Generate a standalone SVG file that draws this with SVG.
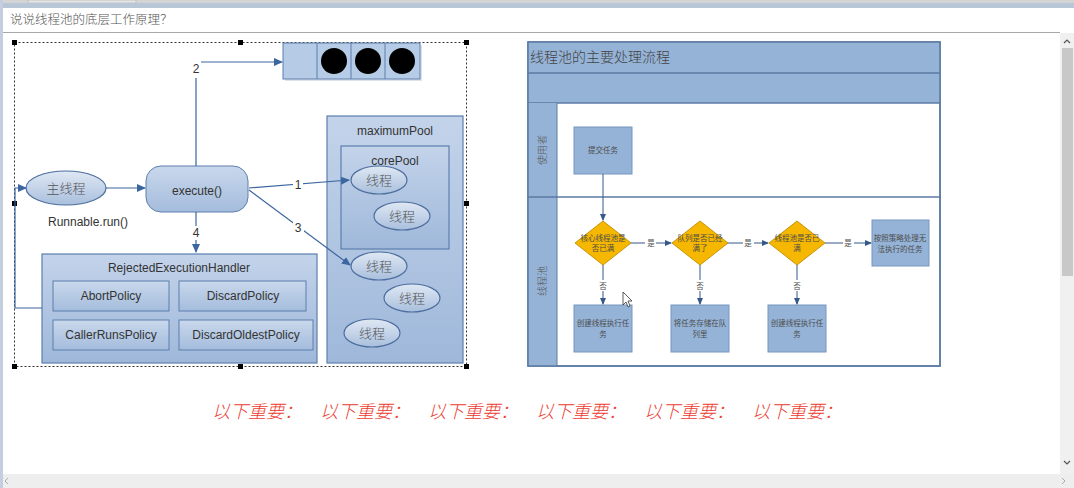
<svg xmlns="http://www.w3.org/2000/svg" width="1074" height="488" viewBox="0 0 1074 488">
<defs>
<linearGradient id="gBox" x1="0" y1="0" x2="0" y2="1"><stop offset="0" stop-color="#c9d8ec"/><stop offset="1" stop-color="#a4bcdc"/></linearGradient>
<linearGradient id="gPool" x1="0" y1="0" x2="0" y2="1"><stop offset="0" stop-color="#c3d3ea"/><stop offset="1" stop-color="#9fb8da"/></linearGradient>
<linearGradient id="gEll" x1="0" y1="0" x2="0" y2="1"><stop offset="0" stop-color="#dfe8f4"/><stop offset="1" stop-color="#a9bfdd"/></linearGradient>
<marker id="arr" markerWidth="9" markerHeight="8" refX="8" refY="4" orient="auto" markerUnits="userSpaceOnUse"><path d="M0,0 L9,4 L0,8 Z" fill="#3b66a0"/></marker>
<marker id="arrS" markerWidth="7" markerHeight="6" refX="6" refY="3" orient="auto" markerUnits="userSpaceOnUse"><path d="M0,0 L7,3 L0,6 Z" fill="#34588a"/></marker>
<style>
.lbl{font-family:"Liberation Sans","Noto Sans CJK SC",sans-serif;font-size:12px;fill:#333;text-anchor:middle}
.cn{font-family:"Noto Sans CJK SC",sans-serif;font-size:13px;font-weight:300;fill:#555;text-anchor:middle}
.box{fill:url(#gBox);stroke:#5c7fae;stroke-width:1}
.pool{fill:url(#gPool);stroke:#5c7fae;stroke-width:1.2}
.ell{fill:url(#gEll);stroke:#4d6e9e;stroke-width:1.2}
.con{fill:none;stroke:#3b66a0;stroke-width:1.2}
.fl{fill:none;stroke:#34588a;stroke-width:1}
.rbox{fill:#95b3d7;stroke:#7796c0;stroke-width:1}
.dia{fill:#f6b700;stroke:#c8950a;stroke-width:1}
.sm{font-family:"Noto Sans CJK SC",serif;font-size:7.5px;fill:#4d4d4d;text-anchor:middle}
.hdl{fill:#000}
.red{font-family:"Noto Sans CJK SC",sans-serif;font-size:18px;font-weight:300;fill:#ec3b30;font-style:italic}
</style>
</defs>

<!-- window chrome -->
<rect x="0" y="0" width="1074" height="488" fill="#ffffff"/>
<rect x="0" y="0" width="1074" height="4" fill="#d4d4d4"/>
<rect x="28" y="0" width="108" height="3" fill="#e6e6e6" stroke="#b0b0b0" stroke-width="0.6"/>
<rect x="0" y="3" width="1074" height="5" fill="#b9c6d7"/>
<rect x="0" y="0" width="3" height="488" fill="#c3cfdf"/>
<line x1="3" y1="32.5" x2="1060" y2="32.5" stroke="#a8a8a8" stroke-width="1"/>
<text x="10" y="24" font-family="Noto Sans CJK SC, sans-serif" font-size="12.5" font-weight="300" fill="#555">说说线程池的底层工作原理？</text>
<rect x="1060" y="33" width="14" height="441" fill="#f0f0f0"/>
<rect x="1062" y="48" width="11" height="228" fill="#c8c8c8"/>
<path d="M1064,43 L1067,40 L1070,43" fill="none" stroke="#555" stroke-width="1.2"/>
<path d="M1064,461 L1067,464 L1070,461" fill="none" stroke="#555" stroke-width="1.2"/>
<rect x="3" y="474" width="1071" height="14" fill="#eeeeee"/>
<path d="M8,478 L5,481 L8,484" fill="none" stroke="#aaa" stroke-width="1"/>
<path d="M1062,478 L1065,481 L1062,484" fill="none" stroke="#aaa" stroke-width="1"/>

<!-- selection frame -->
<g id="selection">
<rect x="14.5" y="42.5" width="452" height="324" fill="none" stroke="#333" stroke-width="1" stroke-dasharray="2 2"/>
<rect class="hdl" x="12" y="40" width="5" height="5"/><rect class="hdl" x="238" y="40" width="5" height="5"/><rect class="hdl" x="464" y="40" width="5" height="5"/>
<rect class="hdl" x="12" y="201" width="5" height="5"/><rect class="hdl" x="464" y="201" width="5" height="5"/>
<rect class="hdl" x="12" y="364" width="5" height="5"/><rect class="hdl" x="238" y="364" width="5" height="5"/><rect class="hdl" x="464" y="364" width="5" height="5"/>
</g>

<!-- left diagram nodes -->
<g id="queue">
<rect x="285" y="45" width="137" height="36" fill="#c8d0dc" opacity="0.6"/>
<rect x="283" y="43" width="137" height="36" fill="#b6cbe6" stroke="#5c7fae" stroke-width="1"/>
<line x1="317" y1="43" x2="317" y2="79" stroke="#5c7fae"/><line x1="351" y1="43" x2="351" y2="79" stroke="#5c7fae"/><line x1="385" y1="43" x2="385" y2="79" stroke="#5c7fae"/>
<circle cx="334" cy="61" r="13" fill="#000"/><circle cx="368" cy="61" r="13" fill="#000"/><circle cx="402" cy="61" r="13" fill="#000"/>
</g>
<g id="maximumPool">
<rect class="pool" x="327" y="116" width="136" height="247"/>
<text class="lbl" x="395" y="135">maximumPool</text>
</g>
<g id="corePool">
<rect class="pool" x="341" y="146" width="108" height="103"/>
<text class="lbl" x="395" y="165">corePool</text>
</g>
<g id="thread1"><ellipse class="ell" cx="379" cy="180" rx="28" ry="14"/><text class="cn" x="379" y="185">线程</text></g>
<g id="thread2"><ellipse class="ell" cx="402" cy="216" rx="28" ry="14"/><text class="cn" x="402" y="221">线程</text></g>
<g id="thread3"><ellipse class="ell" cx="379" cy="266" rx="28" ry="14"/><text class="cn" x="379" y="271">线程</text></g>
<g id="thread4"><ellipse class="ell" cx="412" cy="298" rx="28" ry="14"/><text class="cn" x="412" y="303">线程</text></g>
<g id="thread5"><ellipse class="ell" cx="372" cy="333" rx="28" ry="14"/><text class="cn" x="372" y="338">线程</text></g>
<g id="mainThread"><ellipse class="ell" cx="66" cy="188" rx="40" ry="17"/><text class="cn" x="66" y="193">主线程</text>
<text class="lbl" x="88" y="226">Runnable.run()</text></g>
<g id="execute"><rect class="box" x="146" y="166" width="102" height="46" rx="15"/><text class="lbl" x="197" y="195">execute()</text></g>
<g id="rejectedHandler">
<rect class="pool" x="42" y="254" width="275" height="109"/>
<text class="lbl" x="179" y="272">RejectedExecutionHandler</text>
</g>
<g id="abortPolicy"><rect class="box" x="53" y="281" width="116" height="30"/><text class="lbl" x="111" y="300">AbortPolicy</text></g>
<g id="discardPolicy"><rect class="box" x="179" y="281" width="127" height="30"/><text class="lbl" x="243" y="300">DiscardPolicy</text></g>
<g id="callerRunsPolicy"><rect class="box" x="53" y="320" width="116" height="30"/><text class="lbl" x="111" y="339">CallerRunsPolicy</text></g>
<g id="discardOldestPolicy"><rect class="box" x="179" y="320" width="134" height="30"/><text class="lbl" x="246" y="339">DiscardOldestPolicy</text></g>

<!-- left connectors -->
<g id="connectors">
<path class="con" d="M106,188 L145,188" marker-end="url(#arr)"/>
<path class="con" d="M196,166 L196,62 L282,62" marker-end="url(#arr)"/>
<rect x="189" y="59" width="12" height="19" fill="#fff"/>
<text class="lbl" x="196" y="73">2</text>
<path class="con" d="M249,188 L349,180" marker-end="url(#arr)"/>
<rect x="293" y="177" width="10" height="13" fill="#fff"/>
<text class="lbl" x="298" y="189">1</text>
<path class="con" d="M249,190 L350,265" marker-end="url(#arr)"/>
<rect x="293" y="221" width="11" height="13" fill="#fff"/>
<text class="lbl" x="298" y="232">3</text>
<path class="con" d="M196,212 L196,252" marker-end="url(#arr)"/>
<rect x="190" y="226" width="12" height="14" fill="#fff"/>
<text class="lbl" x="196" y="237">4</text>
<path class="con" d="M42,308 L15,308 L15,188 L26,188" marker-end="url(#arr)"/>
</g>

<!-- right flow chart -->
<g id="swimlane">
<rect x="528" y="42" width="412" height="324" fill="#fff" stroke="#5b7aa3" stroke-width="1.5"/>
<rect x="528" y="42" width="412" height="61" fill="#95b3d7"/>
<line x1="528" y1="73" x2="940" y2="73" stroke="#5b7aa3" stroke-width="1.5"/>
<line x1="528" y1="103" x2="940" y2="103" stroke="#5b7aa3" stroke-width="1.5"/>
<rect x="528" y="103" width="29" height="263" fill="#95b3d7"/>
<line x1="557" y1="103" x2="557" y2="366" stroke="#5b7aa3" stroke-width="1"/>
<line x1="528" y1="197" x2="940" y2="197" stroke="#5b7aa3" stroke-width="1.5"/>
<rect x="528" y="42" width="412" height="324" fill="none" stroke="#5b7aa3" stroke-width="1.5"/>
<text x="530" y="62" font-family="Noto Sans CJK SC, serif" font-size="14" font-weight="300" fill="#444">线程池的主要处理流程</text>
<text transform="translate(546,150) rotate(-90)" font-family="Noto Sans CJK SC, serif" font-size="10" font-weight="300" fill="#555" text-anchor="middle">使用者</text>
<text transform="translate(546,281) rotate(-90)" font-family="Noto Sans CJK SC, serif" font-size="10" font-weight="300" fill="#555" text-anchor="middle">线程池</text>
</g>
<g id="submitTask"><rect class="rbox" x="574" y="127" width="58" height="47"/><text class="sm" x="603" y="153">提交任务</text></g>
<g id="dCore"><path class="dia" d="M603,221 L631,243 L603,265 L575,243 Z"/><text class="sm" x="603" y="241">核心线程池是</text><text class="sm" x="603" y="251">否已满</text></g>
<g id="dQueue"><path class="dia" d="M700,221 L728,243 L700,265 L672,243 Z"/><text class="sm" x="700" y="241">队列是否已经</text><text class="sm" x="700" y="251">满了</text></g>
<g id="dPool"><path class="dia" d="M797,221 L825,243 L797,265 L769,243 Z"/><text class="sm" x="797" y="241">线程池是否已</text><text class="sm" x="797" y="251">满</text></g>
<g id="policyTask"><rect class="rbox" x="872" y="220" width="57" height="46"/><text class="sm" x="900" y="241">按照策略处理无</text><text class="sm" x="900" y="252">法执行的任务</text></g>
<g id="createThread1"><rect class="rbox" x="574" y="305" width="58" height="47"/><text class="sm" x="603" y="326">创建线程执行任</text><text class="sm" x="603" y="337">务</text></g>
<g id="storeQueue"><rect class="rbox" x="671" y="305" width="58" height="47"/><text class="sm" x="700" y="326">将任务存储在队</text><text class="sm" x="700" y="337">列里</text></g>
<g id="createThread2"><rect class="rbox" x="768" y="305" width="58" height="47"/><text class="sm" x="797" y="326">创建线程执行任</text><text class="sm" x="797" y="337">务</text></g>

<g id="flowConnectors">
<path class="fl" d="M603,174 L603,220" marker-end="url(#arrS)"/>
<path class="fl" d="M631,243 L671,243" marker-end="url(#arrS)"/>
<path class="fl" d="M728,243 L768,243" marker-end="url(#arrS)"/>
<path class="fl" d="M825,243 L871,243" marker-end="url(#arrS)"/>
<path class="fl" d="M603,265 L603,304" marker-end="url(#arrS)"/>
<path class="fl" d="M700,265 L700,304" marker-end="url(#arrS)"/>
<path class="fl" d="M797,265 L797,304" marker-end="url(#arrS)"/>
<rect x="645" y="237" width="11" height="11" fill="#fff"/><text class="sm" x="651" y="246">是</text>
<rect x="743" y="237" width="11" height="11" fill="#fff"/><text class="sm" x="748" y="246">是</text>
<rect x="843" y="237" width="11" height="11" fill="#fff"/><text class="sm" x="848" y="246">是</text>
<rect x="598" y="280" width="11" height="11" fill="#fff"/><text class="sm" x="603" y="289">否</text>
<rect x="695" y="280" width="11" height="11" fill="#fff"/><text class="sm" x="700" y="289">否</text>
<rect x="792" y="280" width="11" height="11" fill="#fff"/><text class="sm" x="797" y="289">否</text>
</g>

<!-- cursor -->
<path d="M623,292 L623,305 L626,302 L628,307 L630,306 L628,301 L632,301 Z" fill="#fff" stroke="#333" stroke-width="0.8"/>

<g id="important">
<text class="red" y="418"><tspan x="212">以下重要：</tspan><tspan x="320">以下重要：</tspan><tspan x="428">以下重要：</tspan><tspan x="536">以下重要：</tspan><tspan x="644">以下重要：</tspan><tspan x="752">以下重要：</tspan></text>
</g>
</svg>
